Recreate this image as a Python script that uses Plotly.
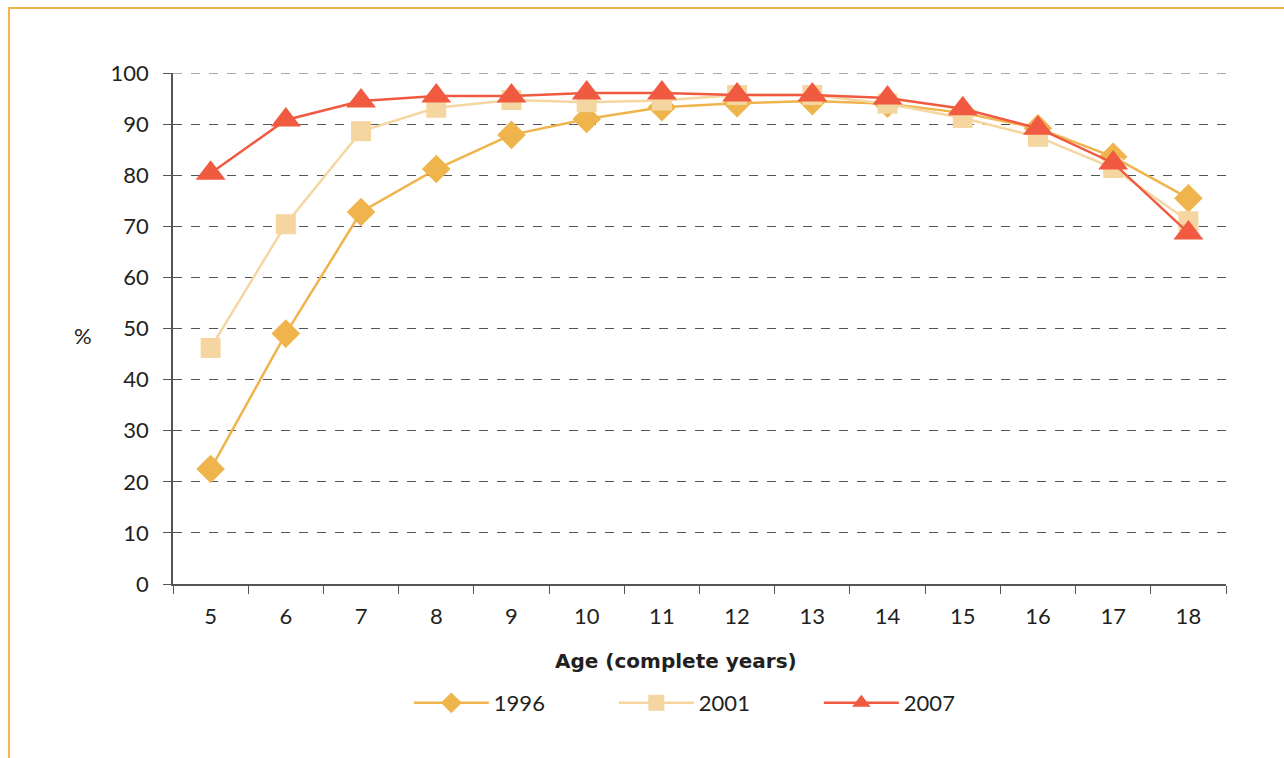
import plotly.graph_objects as go

ages = ["5", "6", "7", "8", "9", "10", "11", "12", "13", "14", "15", "16", "17", "18"]
y1996 = [22.5, 49.0, 72.8, 81.2, 87.9, 91.0, 93.3, 94.1, 94.5, 94.0, 92.2, 89.2, 83.6, 75.5]
y2001 = [46.2, 70.4, 88.6, 93.2, 94.7, 94.3, 94.6, 95.7, 95.7, 94.0, 91.2, 87.5, 81.4, 71.0]
y2007 = [80.4, 90.8, 94.5, 95.5, 95.5, 96.1, 96.1, 95.7, 95.7, 95.1, 93.0, 89.2, 82.4, 68.7]
series_names = ["1996", "2001", "2007"]

colors = ["#F0B44C", "#F5D6A0", "#F05A40"]
symbols = ["diamond", "square", "triangle-up"]
sizes = [22, 20, 26]

FONT = "Lato"

fig = go.Figure()
for name, ys, c, s, sz in zip(series_names, [y1996, y2001, y2007], colors, symbols, sizes):
    fig.add_trace(go.Scatter(
        x=ages, y=ys, name=name, mode="lines+markers",
        line=dict(color=c, width=2.5),
        marker=dict(color=c, symbol=s, size=sz, line=dict(width=0)),
    ))

fig.update_layout(
    width=1284, height=758,
    margin=dict(l=173, r=58, t=73, b=174),
    paper_bgcolor="white", plot_bgcolor="white",
    font=dict(family=FONT, size=22, color="#231F20"),
    showlegend=True,
    legend=dict(orientation="h", x=0.516, xanchor="center", y=-0.233, yanchor="middle",
                font=dict(size=22, family=FONT), entrywidth=115, entrywidthmode="pixels",
                itemwidth=75, traceorder="normal"),
    xaxis=dict(
        type="category", range=[-0.5, 13.5], tickson="boundaries", ticks="outside", ticklen=8,
        tickcolor="#555555", showline=True, linecolor="#555555", linewidth=1.5,
        showgrid=False, tickfont=dict(size=22), ticklabelstandoff=12,
    ),
    yaxis=dict(
        range=[0, 100], dtick=10, ticks="outside", ticklen=8, tickcolor="#555555",
        showline=True, linecolor="#555555", linewidth=1.5,
        showgrid=True, gridcolor="#555555", gridwidth=1, griddash="dash",
        zeroline=False, tickfont=dict(size=22), ticklabelstandoff=10,
    ),
    annotations=[
        dict(text="%", xref="paper", yref="paper", x=-0.0855, y=0.487,
             showarrow=False, font=dict(size=22), xanchor="center", yanchor="middle"),
        dict(text="<b>Age (complete years)</b>", xref="paper", yref="paper",
             x=0.478, y=-0.151, showarrow=False, xanchor="center", yanchor="middle",
             font=dict(size=20, family="DejaVu Sans")),
    ],
    shapes=[
        dict(type="rect", xref="paper", yref="paper",
             x0=-0.1557, x1=1.07, y0=-0.36, y1=1.127,
             line=dict(color="#F0B44C", width=2), fillcolor="rgba(0,0,0,0)", layer="below"),
        dict(type="line", xref="paper", yref="y", x0=0, x1=1, y0=100, y1=100,
             line=dict(color="#555555", width=1, dash="dash"), layer="below"),
    ],
)

fig.write_html("out.html", config={"displayModeBar": False},
               post_script="document.body.style.margin='0px';document.body.style.overflow='hidden';")
